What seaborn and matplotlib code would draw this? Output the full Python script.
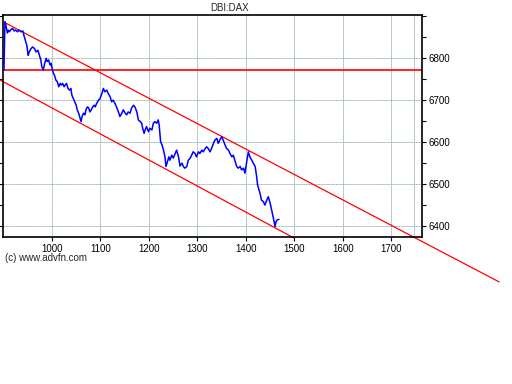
import matplotlib
matplotlib.use("Agg")
import matplotlib.pyplot as plt
import seaborn as sns
import pandas as pd
from matplotlib.ticker import MultipleLocator

sns.set_style("white")
plt.rcParams['font.family'] = ['Liberation Sans', 'DejaVu Sans']

title = "DBI:DAX"
credit = "(c) www.advfn.com"

x_vals = [901, 903, 905, 908, 910, 912, 916, 919, 922, 925, 929, 932, 936, 940, 942, 945,
          948, 951, 953, 957, 960, 964, 967, 971, 974, 977, 979, 982, 985, 988, 990, 993,
          996, 998, 1001, 1003, 1005, 1008, 1011, 1014, 1017, 1019, 1022, 1025, 1027, 1030,
          1033, 1036, 1039, 1041, 1044, 1047, 1050, 1052, 1055, 1058, 1060, 1062, 1065, 1068,
          1070, 1073, 1076, 1078, 1081, 1084, 1087, 1089, 1092, 1096, 1099, 1103, 1106, 1109,
          1113, 1116, 1120, 1123, 1126, 1130, 1133, 1137, 1140, 1144, 1147, 1151, 1154, 1157,
          1161, 1164, 1168, 1171, 1175, 1178, 1182, 1185, 1187, 1190, 1192, 1195, 1199, 1202,
          1206, 1209, 1212, 1216, 1219, 1221, 1224, 1227, 1230, 1233, 1235, 1238, 1241, 1243,
          1247, 1250, 1254, 1257, 1261, 1264, 1268, 1271, 1274, 1278, 1281, 1285, 1288, 1291,
          1295, 1298, 1302, 1305, 1309, 1312, 1316, 1319, 1322, 1326, 1329, 1333, 1336, 1340,
          1343, 1346, 1350, 1353, 1357, 1360, 1364, 1367, 1371, 1374, 1377, 1381, 1384, 1388,
          1391, 1395, 1398, 1402, 1405, 1408, 1412, 1415, 1419, 1422, 1424, 1427, 1429, 1432,
          1436, 1439, 1443, 1446, 1450, 1453, 1456, 1460, 1462, 1465, 1468]
y_vals = [6771, 6886, 6878, 6859, 6866, 6862, 6868, 6870, 6864, 6866, 6862, 6866, 6862, 6864,
          6854, 6842, 6830, 6806, 6814, 6822, 6826, 6822, 6814, 6818, 6806, 6795, 6779, 6771,
          6787, 6799, 6791, 6795, 6783, 6787, 6771, 6763, 6759, 6747, 6743, 6731, 6739, 6735,
          6739, 6731, 6735, 6739, 6727, 6723, 6727, 6711, 6703, 6695, 6687, 6676, 6668, 6656,
          6648, 6660, 6668, 6664, 6676, 6683, 6680, 6671, 6676, 6683, 6687, 6683, 6691, 6699,
          6703, 6715, 6727, 6719, 6723, 6715, 6707, 6695, 6699, 6691, 6683, 6671, 6660, 6668,
          6676, 6668, 6664, 6671, 6668, 6680, 6687, 6683, 6671, 6652, 6648, 6644, 6632, 6620,
          6628, 6636, 6624, 6632, 6628, 6644, 6648, 6644, 6652, 6640, 6600, 6592, 6580, 6564,
          6541, 6552, 6564, 6556, 6568, 6561, 6572, 6580, 6564, 6542, 6549, 6541, 6537, 6541,
          6556, 6561, 6568, 6576, 6572, 6564, 6576, 6572, 6580, 6576, 6584, 6588, 6584, 6576,
          6584, 6596, 6604, 6608, 6596, 6604, 6612, 6604, 6592, 6584, 6580, 6572, 6564, 6568,
          6556, 6541, 6537, 6541, 6533, 6537, 6525, 6556, 6576, 6564, 6556, 6549, 6541, 6517,
          6497, 6485, 6477, 6461, 6457, 6449, 6461, 6469, 6453, 6437, 6421, 6398, 6410, 6414,
          6415]

support_level = 6770
upper_x = [904, 1922]
upper_y = [6883, 6266]
lower_x = [893, 1500]
lower_y = [6747, 6370]
marker_x = 1746

x_ticks = [1000, 1100, 1200, 1300, 1400, 1500, 1600, 1700]
y_ticks = [6400, 6500, 6600, 6700, 6800]

df = pd.DataFrame({"x": x_vals, "y": y_vals})

fig = plt.figure(figsize=(5.12, 3.84), dpi=100)
ax = fig.add_axes([3/512, 1 - 237/384, 419/512, 222/384])
ax.set_xlim(899, 1763)
ax.set_ylim(6373, 6902)

base_kw = dict(color="#c4e6e6", linestyle="-", linewidth=0.6, zorder=0)
dash_kw = dict(color="#a4a4a4", linestyle=(0, (1.5, 1.5)), linewidth=0.6, zorder=0.5)
for xt in x_ticks + [marker_x]:
    ax.axvline(xt, **base_kw)
    ax.axvline(xt, **dash_kw)
for yt in y_ticks:
    ax.axhline(yt, **base_kw)
    ax.axhline(yt, **dash_kw)

ax.axhline(support_level, color="#ff0000", linewidth=1.2, zorder=2)
ax.plot(upper_x, upper_y, color="#ff0000", linewidth=0.9, clip_on=False, zorder=2)
ax.plot(lower_x, lower_y, color="#ff0000", linewidth=0.9, clip_on=False, zorder=2)

sns.lineplot(data=df, x="x", y="y", ax=ax, color="#0000ff", linewidth=1.1,
             estimator=None, sort=False, zorder=3)

ax.set_xlabel("")
ax.set_ylabel("")
ax.set_xticks(x_ticks)
ax.set_xticklabels([str(v) for v in x_ticks])
ax.set_yticks(y_ticks)
ax.set_yticklabels([str(v) for v in y_ticks])
ax.yaxis.set_minor_locator(MultipleLocator(50))
ax.yaxis.tick_right()
ax.tick_params(axis="both", which="both", direction="out", labelsize=7, colors="black",
               length=3, width=0.8, pad=2, left=True, right=True, bottom=True, top=False,
               labelleft=False, labelright=True)
ax.tick_params(axis="y", which="minor", length=3)
for s in ax.spines.values():
    s.set_color("black")
    s.set_linewidth(1.2)
    s.set_visible(True)

fig.text(230/512, 1 - 8/384, title, ha="center", va="center", fontsize=7)
fig.text(5/512, 1 - 258/384, credit, ha="left", va="center", fontsize=7)

fig.savefig("out.png", dpi=100, facecolor="white")
